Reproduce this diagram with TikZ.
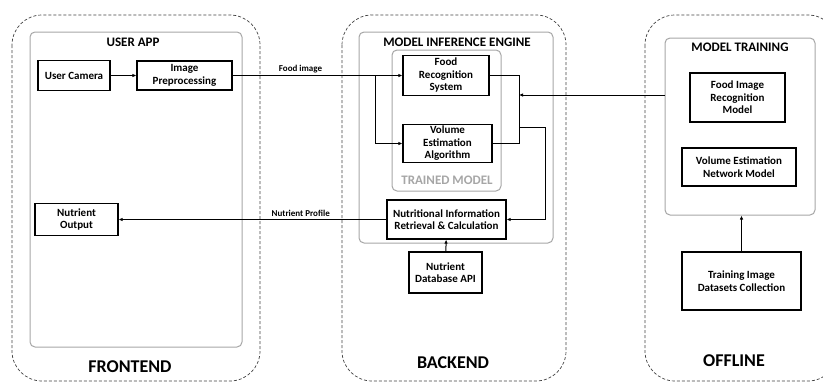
\documentclass[tikz,border=0pt]{standalone}
\usepackage{fontspec}
\setmainfont{Carlito}
\usetikzlibrary{arrows.meta}
\tikzset{
  stage/.style={draw=black!75, dash pattern=on 3pt off 2pt, rounded corners=30pt, line width=0.7pt},
  panel/.style={draw=black!35, rounded corners=5pt, line width=1pt},
  block/.style={draw, line width=1.2pt, align=center, font=\bfseries\fontsize{11}{12.5}\selectfont, inner sep=1pt},
  arr/.style={-{Latex[length=4pt,width=3.5pt]}, line width=1pt},
  wire/.style={line width=1pt},
  flowlabel/.style={font=\bfseries\fontsize{9}{10}\selectfont, above, inner sep=2pt},
  paneltitle/.style={font=\bfseries\fontsize{13}{15}\selectfont},
  stagetitle/.style={font=\bfseries\fontsize{18}{21}\selectfont}
}
\begin{document}
\begin{tikzpicture}[x=1pt, y=-1pt]
		\useasboundingbox (0,0) rectangle (823,383);

		% Dashed stages
		\draw[stage] (12,15) rectangle (260,381);
		\draw[stage] (342,15) rectangle (566,381);
		\draw[stage] (645,15) rectangle (838,381);
		\node[stagetitle] (front) at (130,367) {FRONTEND};
		\node[stagetitle] (back) at (453,363) {BACKEND};
		\node[stagetitle] (off) at (734,361) {OFFLINE};

		% Grey panels
		\draw[panel] (30,32) rectangle (242,347);
		\node[paneltitle] (userapp) at (133,42) {USER APP};
		\draw[panel] (359,32) rectangle (553,243);
		\node[paneltitle] (engine) at (457,42) {MODEL INFERENCE ENGINE};
		\draw[panel] (392,50) rectangle (501,191);
		\node[paneltitle, text=black!35] (trained) at (447,180) {TRAINED MODEL};
		\node[panel, minimum width=150pt, minimum height=177pt] (mtrain) at (740,126.5) {};
		\node[paneltitle] (mtitle) at (740,47) {MODEL TRAINING};

		% Frontend blocks
		\node[block, minimum width=72pt, minimum height=30pt] (cam) at (74,75.5) {User Camera};
		\node[block, minimum width=95pt, minimum height=29pt] (pre) at (184.5,75.5) {Image\\Preprocessing};
		\node[block, minimum width=83pt, minimum height=32pt] (nout) at (76.5,219.5) {Nutrient\\Output};

		% Backend blocks
		\node[block, minimum width=86pt, minimum height=40pt] (food) at (446,75.5) {Food\\Recognition\\System};
		\node[block, minimum width=89pt, minimum height=38pt] (vol) at (447.5,143.5) {Volume\\Estimation\\Algorithm};
		\node[block, minimum width=119pt, minimum height=39pt] (nutri) at (446.5,219.5) {Nutritional Information\\Retrieval \& Calculation};
		\node[block, minimum width=73pt, minimum height=41pt] (db) at (445.5,272.5) {Nutrient\\Database API};

		% Offline blocks
		\node[block, minimum width=95pt, minimum height=49pt] (fmodel) at (737.5,97.5) {Food Image\\Recognition\\Model};
		\node[block, minimum width=114pt, minimum height=38pt] (vmodel) at (739,167) {Volume Estimation\\Network Model};
		\node[block, minimum width=119pt, minimum height=58pt] (tds) at (741.5,281) {Training Image\\Datasets Collection};

		% Junctions
		\coordinate (split) at (375,75.5);
		\coordinate (jn) at (519,127);
		\coordinate (jr) at (545,127);
		\coordinate (tin) at (519,95);

		% Connectors
		\draw[arr] (cam) -- (pre);
		\draw[arr] (pre.east) -- node[flowlabel, pos=0.4] {Food image} (food.west);
		\draw[arr] (split) |- (vol.west);
		\draw[wire] (food.east) -| (jn);
		\draw[wire] (vol.east) -| (jn);
		\draw[arr] (mtrain.west |- tin) -- (tin);
		\draw[arr] (jn) -- (jr) |- (nutri.east);
		\draw[arr] (nutri.west) -- node[flowlabel, pos=0.32] {Nutrient Profile} (nout.east);
		\draw[arr] (db) -- (nutri);
		\draw[arr] (tds.north) -- (tds.north |- mtrain.south);
	\end{tikzpicture}
\end{document}
